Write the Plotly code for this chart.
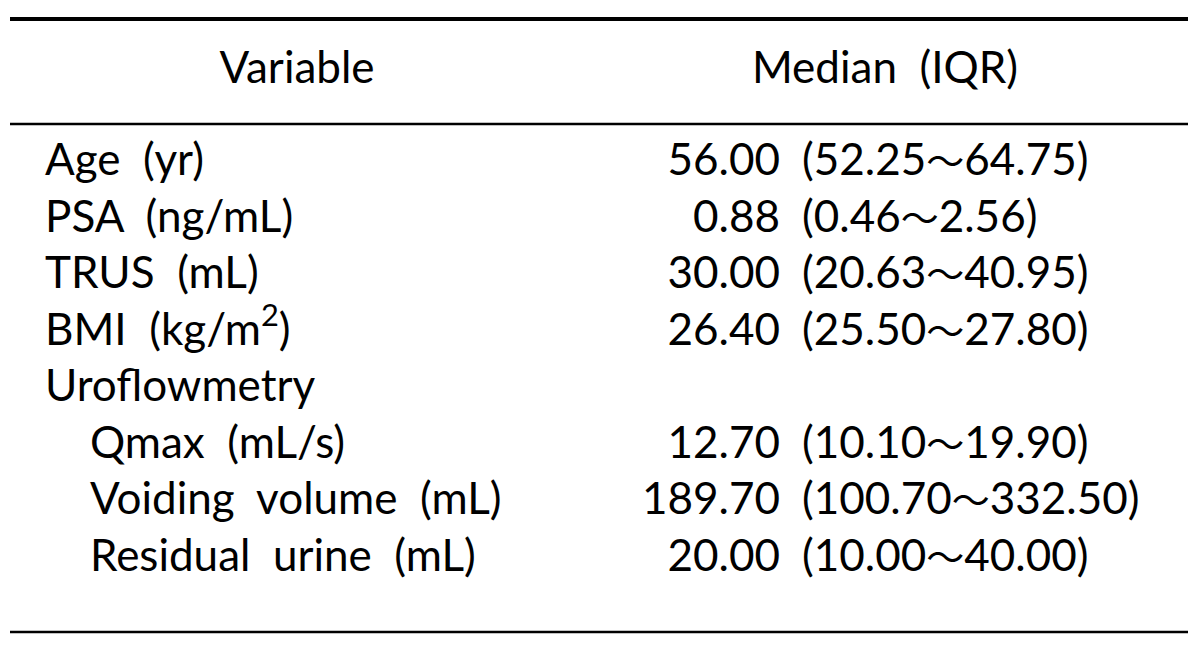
import plotly.graph_objects as go

header = ["Variable", "Median\u00a0 (IQR)"]
variables = ["Age\u00a0 (yr)", "PSA\u00a0 (ng/mL)", "TRUS\u00a0 (mL)", "BMI\u00a0 (kg/m<sup>2</sup>)",
             "Uroflowmetry", "Qmax\u00a0 (mL/s)", "Voiding\u00a0 volume\u00a0 (mL)", "Residual\u00a0 urine\u00a0 (mL)"]
indent = [0, 0, 0, 0, 0, 1, 1, 1]
medians = ["56.00", "0.88", "30.00", "26.40", "", "12.70", "189.70", "20.00"]
iqr_low = ["52.25", "0.46", "20.63", "25.50", "", "10.10", "100.70", "10.00"]
iqr_high = ["64.75", "2.56", "40.95", "27.80", "", "19.90", "332.50", "40.00"]

FONT = "Lato"
FS = 44
W, H = 1200, 645
row0, step = 164, 56.5
rows_y = [row0 + i * step for i in range(len(variables))]

TILDE = '<span style="font-family:Noto Sans CJK KR;font-size:38px">\uff5e</span>'
iqr_text = [f"({lo}{TILDE}{hi})" if lo else "" for lo, hi in zip(iqr_low, iqr_high)]

val_y = [y for y, m in zip(rows_y, medians) if m]
val_med = [m for m in medians if m]
val_iqr = [t for t in iqr_text if t]

tf = dict(family=FONT, size=FS, color="black")
fig = go.Figure()
fig.add_trace(go.Scatter(x=[45 + 45 * d for d in indent], y=rows_y, text=variables, mode="text",
                         textposition="middle right", textfont=tf, hoverinfo="skip"))
fig.add_trace(go.Scatter(x=[780] * len(val_med), y=val_y, text=val_med, mode="text",
                         textposition="middle left", textfont=tf, hoverinfo="skip"))
fig.add_trace(go.Scatter(x=[802] * len(val_iqr), y=val_y, text=val_iqr, mode="text",
                         textposition="middle right", textfont=tf, hoverinfo="skip"))
fig.add_trace(go.Scatter(x=[297, 885], y=[72, 72], text=header, mode="text",
                         textposition="middle center", textfont=tf, hoverinfo="skip"))

for y, w in [(19, 4), (124, 2.5), (632, 2.5)]:
    fig.add_shape(type="line", x0=10, x1=1188, y0=y, y1=y, line=dict(color="black", width=w))

fig.update_layout(
    width=W, height=H, margin=dict(l=0, r=0, t=0, b=0),
    paper_bgcolor="white", plot_bgcolor="white", showlegend=False,
    xaxis=dict(range=[0, W], visible=False, fixedrange=True),
    yaxis=dict(range=[H, 0], visible=False, fixedrange=True),
)
fig.write_html("out.html", config={"displayModeBar": False},
               post_script="document.body.style.margin='0px';")
